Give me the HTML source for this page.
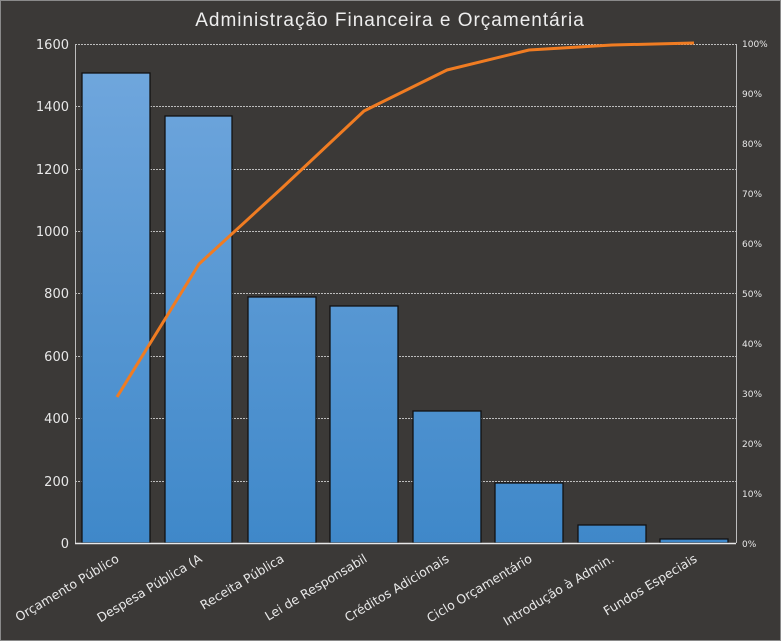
<!DOCTYPE html>
<html><head><meta charset="utf-8"><style>
html,body{margin:0;padding:0;background:#3b3937;}
svg{display:block;font-family:"Liberation Sans","DejaVu Sans",sans-serif;}
</style></head><body>
<svg width="781" height="641" viewBox="0 0 781 641" xmlns="http://www.w3.org/2000/svg">
<defs>
<linearGradient id="bg" gradientUnits="userSpaceOnUse" x1="0" y1="44" x2="0" y2="543">
<stop offset="0" stop-color="#72a8de"/><stop offset="1" stop-color="#3f88c9"/>
</linearGradient>
</defs>
<rect x="0.5" y="0.5" width="780" height="640" fill="#3b3937" stroke="#8a8a8a"/>
<text x="390" y="26" fill="#eeeeee" font-size="19" text-anchor="middle" letter-spacing="1">Administração Financeira e Orçamentária</text>
<g stroke="#bdbdbd" stroke-width="1" stroke-dasharray="2,1">
<line x1="75" y1="44.5" x2="736" y2="44.5"/>
<line x1="75" y1="106.5" x2="736" y2="106.5"/>
<line x1="75" y1="169.5" x2="736" y2="169.5"/>
<line x1="75" y1="231.5" x2="736" y2="231.5"/>
<line x1="75" y1="293.5" x2="736" y2="293.5"/>
<line x1="75" y1="356.5" x2="736" y2="356.5"/>
<line x1="75" y1="418.5" x2="736" y2="418.5"/>
<line x1="75" y1="481.5" x2="736" y2="481.5"/>
</g>
<line x1="75.5" y1="44" x2="75.5" y2="543" stroke="#bdbdbd"/>
<line x1="736.5" y1="44" x2="736.5" y2="543" stroke="#bdbdbd"/>
<g fill="url(#bg)" stroke="#111" stroke-width="1.3">
<rect x="82" y="73" width="68" height="470"/>
<rect x="165" y="116" width="67" height="427"/>
<rect x="248" y="297" width="68" height="246"/>
<rect x="330" y="306" width="68" height="237"/>
<rect x="413" y="411" width="68" height="132"/>
<rect x="495" y="483" width="68" height="60"/>
<rect x="578" y="525" width="68" height="18"/>
<rect x="660" y="539" width="68" height="4"/>
</g>
<line x1="75" y1="543.5" x2="736" y2="543.5" stroke="#e8e8e8" stroke-width="1.5"/>
<polyline points="117,397 199,264 282,188 364,111 447,70 529,50 612,45 694,43" fill="none" stroke="#f07c22" stroke-width="3" stroke-linejoin="round"/>
<g fill="#e8e8e8" font-size="13" text-anchor="end" font-family="DejaVu Sans, sans-serif">
<text x="69" y="49">1600</text><text x="69" y="111">1400</text><text x="69" y="174">1200</text>
<text x="69" y="236">1000</text><text x="69" y="298">800</text><text x="69" y="361">600</text>
<text x="69" y="423">400</text><text x="69" y="486">200</text><text x="69" y="548">0</text>
</g>
<g fill="#e8e8e8" font-size="9" font-family="DejaVu Sans, sans-serif">
<text x="742" y="47">100%</text><text x="742" y="97">90%</text><text x="742" y="147">80%</text>
<text x="742" y="197">70%</text><text x="742" y="247">60%</text><text x="742" y="297">50%</text>
<text x="742" y="347">40%</text><text x="742" y="397">30%</text><text x="742" y="447">20%</text>
<text x="742" y="497">10%</text><text x="742" y="547">0%</text>
</g>
<g fill="#e8e8e8" font-size="12.5" text-anchor="end" font-family="DejaVu Sans, sans-serif">
<text transform="translate(120,561) rotate(-31)">Orçamento Público</text>
<text transform="translate(203,561) rotate(-31)">Despesa Pública (A</text>
<text transform="translate(285,561) rotate(-31)">Receita Pública</text>
<text transform="translate(368,561) rotate(-31)">Lei de Responsabil</text>
<text transform="translate(450,561) rotate(-31)">Créditos Adicionais</text>
<text transform="translate(533,561) rotate(-31)">Ciclo Orçamentário</text>
<text transform="translate(615,561) rotate(-31)">Introdução à Admin.</text>
<text transform="translate(698,561) rotate(-31)">Fundos  Especiais</text>
</g>
</svg>
</body></html>
